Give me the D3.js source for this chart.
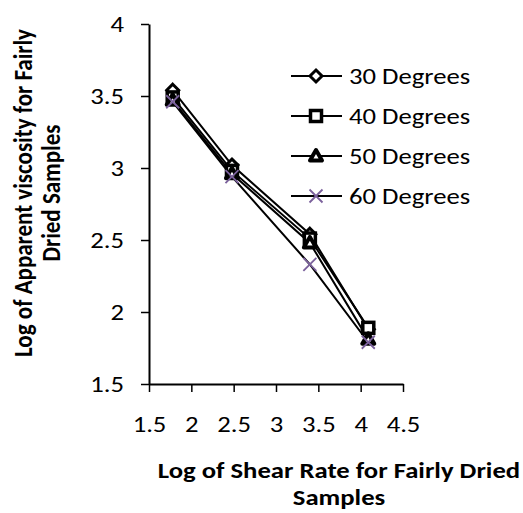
<!DOCTYPE html>
<html>
<head>
<meta charset="utf-8">
<script src="https://cdn.jsdelivr.net/npm/d3@7"></script>
<style>
  body { margin: 0; background: #fff; }
  text { font-family: Carlito, "Open Sans", "Noto Sans", sans-serif; fill: #000; }
</style>
</head>
<body>
<svg id="chart"></svg>
<script>
const shearRate = [1.78, 2.48, 3.40, 4.09];
const series = ["30 Degrees", "40 Degrees", "50 Degrees", "60 Degrees"];
const deg30 = [3.54, 3.02, 2.54, 1.88];
const deg40 = [3.49, 2.98, 2.51, 1.89];
const deg50 = [3.47, 2.96, 2.48, 1.81];
const deg60 = [3.46, 2.94, 2.33, 1.79];
const xTicks = [1.5, 2, 2.5, 3, 3.5, 4, 4.5];
const yTicks = [1.5, 2, 2.5, 3, 3.5, 4];

const width = 523, height = 513;
const margin = { left: 149, top: 24, right: 120, bottom: 129 };
const sx = 1.16; // text looks stretched sideways in the original
const fs = 23;
const svg = d3.select("#chart").attr("width", width).attr("height", height);

const x = d3.scaleLinear().domain([1.5, 4.5]).range([margin.left, width - margin.right]);
const y = d3.scaleLinear().domain([1.5, 4]).range([height - margin.bottom, margin.top]);

const xAxis = svg.append("g")
  .attr("transform", `translate(0, ${y(1.5)})`)
  .call(d3.axisBottom(x).tickValues(xTicks).tickSize(8).tickSizeOuter(0).tickFormat(d3.format("")));
const yAxis = svg.append("g")
  .attr("transform", `translate(${x(1.5)}, 0)`)
  .call(d3.axisLeft(y).tickValues(yTicks).tickSize(8).tickSizeOuter(0).tickFormat(d3.format("")));
[xAxis, yAxis].forEach(a => {
  a.selectAll("path, line").attr("stroke", "#000").attr("stroke-width", 1.5);
  a.select(".domain").attr("stroke-width", 2);
  a.selectAll("text").attr("font-size", fs).attr("fill", "#000").attr("transform", `scale(${sx},1)`);
});
xAxis.selectAll("text").attr("y", 48).attr("dy", 0);
yAxis.selectAll("text").attr("x", -25 / sx);

// markers
function marker(g, i, cx, cy) {
  if (i === 0) {
    g.append("path").attr("d", `M${cx},${cy - 6}L${cx + 6},${cy}L${cx},${cy + 6}L${cx - 6},${cy}Z`)
      .attr("fill", "#fff").attr("stroke", "#000").attr("stroke-width", 3);
  } else if (i === 1) {
    g.append("rect").attr("x", cx - 5.5).attr("y", cy - 5.5).attr("width", 11).attr("height", 11)
      .attr("fill", "#fff").attr("stroke", "#000").attr("stroke-width", 3.5);
  } else if (i === 2) {
    g.append("path").attr("d", `M${cx},${cy - 6}L${cx + 6},${cy + 4.5}L${cx - 6},${cy + 4.5}Z`)
      .attr("fill", "#fff").attr("stroke", "#000").attr("stroke-width", 4).attr("stroke-linejoin", "round");
  } else {
    g.append("path").attr("d", `M${cx - 6.5},${cy - 6.5}L${cx + 6.5},${cy + 6.5}M${cx + 6.5},${cy - 6.5}L${cx - 6.5},${cy + 6.5}`)
      .attr("stroke", "#7b619c").attr("stroke-width", 1.8);
  }
}

const line = d3.line().x((d, i) => x(shearRate[i])).y(d => y(d));
const all = [deg30, deg40, deg50, deg60];
all.forEach(vals => {
  svg.append("path").datum(vals).attr("d", line)
    .attr("fill", "none").attr("stroke", "#000").attr("stroke-width", 2);
});
all.forEach((vals, i) => {
  const g = svg.append("g");
  vals.forEach((v, j) => marker(g, i, x(shearRate[j]), y(v)));
});

// legend
const legend = svg.append("g");
series.forEach((name, i) => {
  const ly = 76 + i * 40;
  legend.append("line").attr("x1", 291).attr("x2", 342).attr("y1", ly).attr("y2", ly)
    .attr("stroke", "#000").attr("stroke-width", 2);
  marker(legend, i, 316, ly);
  legend.append("text").attr("transform", `translate(349, ${ly + 8}) scale(${sx},1)`)
    .attr("font-size", fs).text(name);
});

// axis titles
svg.append("text").attr("transform", `translate(339, 478) scale(${sx},1)`).attr("text-anchor", "middle")
  .attr("font-size", fs).attr("font-weight", "bold").text("Log of Shear Rate for Fairly Dried");
svg.append("text").attr("transform", `translate(339, 505) scale(${sx},1)`).attr("text-anchor", "middle")
  .attr("font-size", fs).attr("font-weight", "bold").text("Samples");
const yt = svg.append("text").attr("transform", `translate(32, 193) scale(${sx},1) rotate(-90)`)
  .attr("text-anchor", "middle").attr("font-size", fs).attr("font-weight", "bold");
yt.append("tspan").attr("x", 0).attr("dy", 0).text("Log of Apparent viscosity for Fairly");
yt.append("tspan").attr("x", 0).attr("dy", 28 / sx).text("Dried Samples");
</script>
</body>
</html>
